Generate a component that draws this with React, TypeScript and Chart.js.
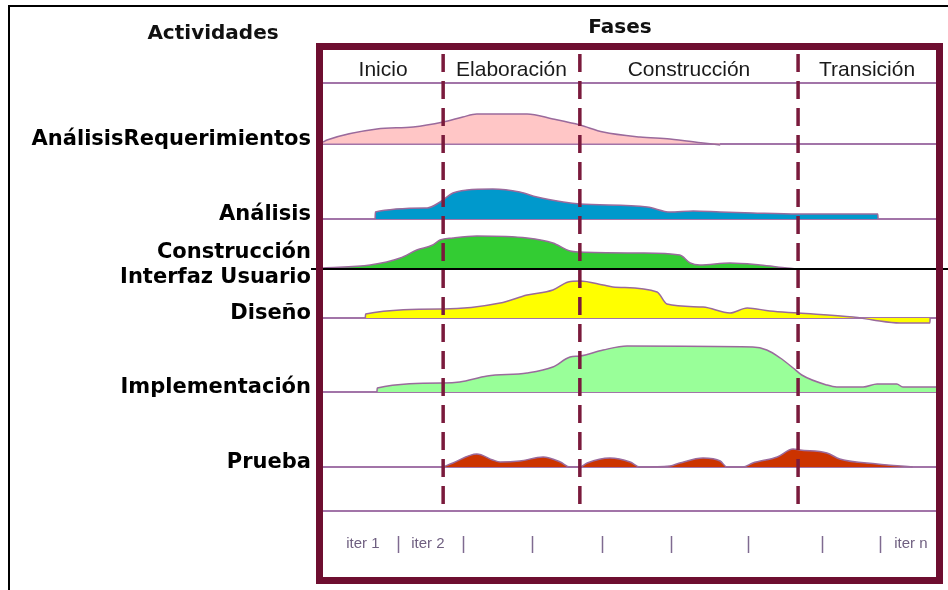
import React, { useEffect, useRef } from "react";
import { Chart, registerables } from "chart.js";

Chart.register(...registerables);

// ---------- data ----------
const activityLabels: (string | string[])[] = [
  "AnálisisRequerimientos",
  "Análisis",
  ["Construcción", "Interfaz Usuario"],
  "Diseño",
  "Implementación",
  "Prueba",
];
const activityBaselines = [86.7, 71.6, 61.6, 51.8, 37.0, 22.0];
const headerLine = 98.8;
const footerLine = 13.2;

const phaseNames = ["Inicio", "Elaboración", "Construcción", "Transición"];
const phaseBounds = [0, 19.6, 41.9, 77.5, 100];

const iterNames = ["iter 1", "iter 2", "iter n"];
const iterNamePos = [6.5, 17.1, 95.9];
const iterMarks = [12.2, 22.8, 34.1, 45.5, 56.8, 69.3, 81.4, 90.9];

const activityColors = ["#ffc6c6", "#0099cc", "#33cc33", "#ffff00", "#99ff99", "#cc3300"];

const reqX = [0, 0.65, 8.8, 14.7, 19.6, 22.8, 25.1, 33.3, 37.5, 41.9, 45.7, 51.7, 56.6, 62.0, 64.8];
const reqH = [0.3, 0.7, 2.9, 3.3, 4.3, 5.3, 5.9, 5.9, 4.9, 3.7, 2.3, 1.3, 0.9, 0.1, -0.3];

const anaX = [8.5, 8.55, 17.0, 19.1, 21.2, 23.5, 27.7, 32.1, 34.9, 39.2, 41.9, 52.9, 56.6, 60.4, 64.8, 70.1, 77.5, 90.5, 90.55];
const anaH = [0, 1.4, 2.2, 3.4, 5.2, 5.8, 6.0, 5.4, 4.4, 3.4, 3.0, 2.4, 1.4, 1.6, 1.4, 1.2, 1.0, 1.0, 0];

const uiX = [0, 7.7, 12.6, 15.3, 17.9, 19.1, 21.2, 25.1, 33.3, 37.5, 40.3, 41.9, 51.7, 58.2, 59.9, 61.5, 66.4, 71.3, 75.7, 77.5];
const uiH = [0.2, 0.8, 2.2, 3.8, 4.8, 5.8, 6.2, 6.6, 6.2, 5.2, 3.6, 3.4, 3.2, 2.8, 1.2, 0.8, 1.2, 0.8, 0.2, 0];

const disX = [6.9, 6.95, 19.6, 28.9, 33.3, 37.5, 40.0, 41.9, 45.7, 47.3, 54.5, 56.1, 62.0, 66.4, 69.2, 72.9, 77.5, 86.5, 89.7, 94.1, 99.0, 99.05];
const disH = [0, 0.8, 1.8, 3.0, 4.6, 5.6, 7.2, 7.4, 6.6, 6.2, 5.2, 2.8, 2.2, 1.0, 2.0, 1.4, 1.0, 0.2, -0.4, -1.0, -1.0, 0];

const impX = [8.8, 8.85, 19.6, 22.3, 26.8, 33.3, 37.5, 40.3, 41.9, 45.7, 49.6, 70.1, 72.4, 74.6, 76.7, 78.1, 82.2, 83.8, 88.1, 90.4, 93.6, 94.6, 100];
const impH = [0, 0.8, 1.8, 2.0, 3.2, 3.8, 5.0, 7.0, 7.2, 8.4, 9.2, 9.0, 8.4, 6.8, 4.8, 3.4, 1.4, 1.0, 1.0, 1.6, 1.6, 1.0, 1.0];

const testX = [19.6, 21.2, 25.1, 27.7, 28.9, 32.1, 35.9, 38.7, 40.3, 41.9, 43.1, 46.8, 50.1, 51.7, 56.6, 58.2, 62.0, 64.8, 65.9, 68.5, 70.1, 74.1, 76.7, 77.8, 82.2, 84.3, 90.4, 96.2];
const testH = [0, 0.8, 2.6, 1.4, 1.0, 1.2, 2.0, 1.0, 0, 0, 0.8, 1.8, 1.0, 0, 0.2, 0.8, 1.8, 1.2, 0, 0, 0.8, 2.0, 3.6, 3.4, 2.8, 1.6, 0.6, 0];

const seriesX = [reqX, anaX, uiX, disX, impX, testX];
const seriesH = [reqH, anaH, uiH, disH, impH, testH];

const yTickValues = [headerLine, ...activityBaselines, footerLine];
const yTickLabels: (string | string[])[] = ["", ...activityLabels, ""];

const MAROON = "#6e0e30";
const PURPLE = "#a274a8";

const decorPlugin = {
  id: "rupDecor",
  beforeDraw(chart: any) {
    const { ctx, width, height } = chart;
    ctx.save();
    ctx.fillStyle = "#ffffff";
    ctx.fillRect(0, 0, width, height);
    ctx.strokeStyle = "#000000";
    ctx.lineWidth = 2;
    ctx.strokeRect(9, 6, width + 20, height + 20);
    ctx.fillStyle = "#111111";
    ctx.font = "bold 20px 'DejaVu Sans'";
    ctx.textAlign = "center";
    ctx.textBaseline = "middle";
    ctx.fillText("Actividades", 213, 34);
    ctx.fillText("Fases", 620, 28);
    ctx.restore();
  },
  afterDatasetsDraw(chart: any) {
    const { ctx, chartArea } = chart;
    const xs = chart.scales.x;
    const ys = chart.scales.y;
    ctx.save();
    // CIU black line extension
    const yCiu = ys.getPixelForValue(activityBaselines[2]);
    ctx.strokeStyle = "#000";
    ctx.lineWidth = 2;
    ctx.beginPath();
    ctx.moveTo(chartArea.left - 12, yCiu);
    ctx.lineTo(chart.width, yCiu);
    ctx.stroke();

    // phase dashed lines
    const yFoot = ys.getPixelForValue(footerLine);
    ctx.strokeStyle = "#7a1a3c";
    ctx.lineWidth = 3.5;
    ctx.setLineDash([18, 9]);
    for (let i = 1; i < phaseBounds.length - 1; i++) {
      const x = xs.getPixelForValue(phaseBounds[i]);
      ctx.beginPath();
      ctx.moveTo(x, chartArea.top + 4);
      ctx.lineTo(x, yFoot + 2);
      ctx.stroke();
    }
    ctx.setLineDash([]);

    // phase names
    const yHead = ys.getPixelForValue(headerLine);
    ctx.fillStyle = "#1a1a1a";
    ctx.font = "21px 'Liberation Sans'";
    ctx.textAlign = "center";
    ctx.textBaseline = "middle";
    for (let i = 0; i < phaseNames.length; i++) {
      const cx = xs.getPixelForValue((phaseBounds[i] + phaseBounds[i + 1]) / 2);
      ctx.fillText(phaseNames[i], cx, (chartArea.top + yHead) / 2 + 4);
    }

    // iterations row
    const yIter = (yFoot + chartArea.bottom) / 2;
    ctx.fillStyle = "#6f5f80";
    ctx.font = "15px 'Liberation Sans'";
    for (let i = 0; i < iterNames.length; i++) {
      ctx.fillText(iterNames[i], xs.getPixelForValue(iterNamePos[i]), yIter);
    }
    ctx.strokeStyle = "#7f6a90";
    ctx.lineWidth = 1.5;
    for (const m of iterMarks) {
      const x = Math.round(xs.getPixelForValue(m)) + 0.5;
      ctx.beginPath();
      ctx.moveTo(x, yIter - 8);
      ctx.lineTo(x, yIter + 9);
      ctx.stroke();
    }

    // frame
    ctx.strokeStyle = MAROON;
    ctx.lineWidth = 7;
    ctx.strokeRect(
      chartArea.left - 3.5,
      chartArea.top - 3.5,
      chartArea.right - chartArea.left + 7,
      chartArea.bottom - chartArea.top + 7
    );
    ctx.restore();
  },
};

export default function App() {
  const canvasRef = useRef<HTMLCanvasElement | null>(null);

  useEffect(() => {
    const canvas = canvasRef.current;
    if (!canvas) return;
    const datasets = seriesX.map((xsArr, i) => ({
      label: Array.isArray(activityLabels[i]) ? (activityLabels[i] as string[]).join(" ") : (activityLabels[i] as string),
      data: xsArr.map((x, j) => ({ x, y: activityBaselines[i] + seriesH[i][j] })),
      fill: { value: activityBaselines[i] },
      backgroundColor: activityColors[i],
      borderColor: "#9a6a9c",
      borderWidth: 1.5,
      pointRadius: 0,
      cubicInterpolationMode: "monotone" as const,
    }));

    const chart = new Chart(canvas, {
      type: "line",
      data: { datasets },
      plugins: [decorPlugin],
      options: {
        animation: false,
        responsive: false,
        devicePixelRatio: 1,
        layout: { padding: { left: 0, top: 50, right: 12, bottom: 13 } },
        plugins: { legend: { display: false }, tooltip: { enabled: false }, title: { display: false } },
        scales: {
          x: { type: "linear", min: 0, max: 100, display: false },
          y: {
            type: "linear",
            min: 0,
            max: 105.4,
            afterBuildTicks: (scale: any) => {
              scale.ticks = yTickValues.map((v) => ({ value: v }));
            },
            afterFit: (scale: any) => {
              scale.width = 323;
              scale.paddingTop = 0;
              scale.paddingBottom = 0;
            },
            ticks: {
              autoSkip: false,
              padding: 12,
              labelOffset: -4,
              color: "#000",
              font: { family: "'DejaVu Sans'", weight: "bold", size: 21, lineHeight: 1.2 },
              callback: (_v: any, index: number) => yTickLabels[index],
            },
            grid: {
              drawTicks: false,
              lineWidth: 2,
              color: (c: any) => (c.index === 3 ? "#000000" : PURPLE),
            },
            border: { display: false },
          },
        },
      },
    });
    return () => chart.destroy();
  }, []);

  return (
    <div style={{ position: "fixed", left: 0, top: 0, width: 948, height: 590, background: "#fff" }}>
      <canvas ref={canvasRef} width={948} height={590} style={{ display: "block" }} />
    </div>
  );
}
